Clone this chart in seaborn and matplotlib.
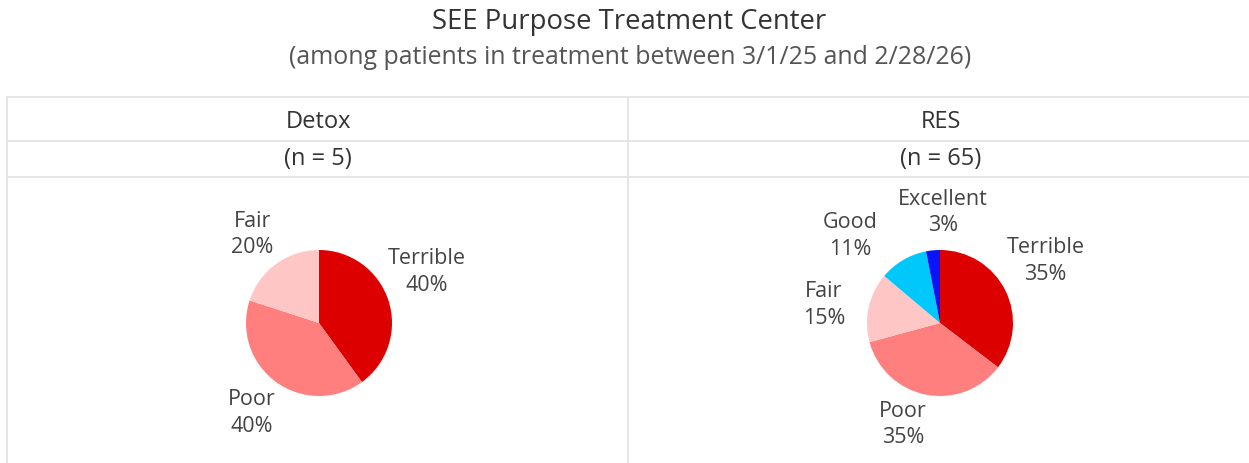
import matplotlib
matplotlib.use("Agg")
import numpy as np
import matplotlib.pyplot as plt
from matplotlib.lines import Line2D
import seaborn as sns

# ---- data ----
title = "SEE Purpose Treatment Center"
subtitle = "(among patients in treatment between 3/1/25 and 2/28/26)"
programs = ["Detox", "RES"]
n_counts = [5, 65]
categories = ["Terrible", "Poor", "Fair", "Good", "Excellent"]
detox_counts = [2, 2, 1, 0, 0]
res_counts = [23, 23, 10, 7, 2]
colors = ["#DD0000", "#FF7F7F", "#FFC6C6", "#00C8FA", "#0A14FA"]

# label placement styling (distance in radii, angular nudge in degrees)
detox_label_dist = [1.64, 1.53, 1.53, 1.5, 1.5]
detox_label_nudge = [7.6, -1.0, 0.8, 0, 0]
res_label_dist = [1.68, 1.47, 1.61, 1.72, 1.53]
res_label_nudge = [4.5, -9.2, 3.1, 15.0, -7.0]

sns.set_theme(style="white")
plt.rcParams["font.family"] = ["Open Sans", "DejaVu Sans"]

W, H = 1249, 464
fig = plt.figure(figsize=(W / 100, H / 100), dpi=100)
fig.patch.set_facecolor("white")


def fx(x):
    return x / W


def fy(y):
    return 1 - y / H


fig.text(fx(629), fy(22), title, ha="center", va="center", fontsize=19.8, color="#333333")
fig.text(fx(630), fy(57), subtitle, ha="center", va="center", fontsize=17.9, color="#555555")

grid_c = "#e2e2e2"
for y in [98, 142, 178]:
    fig.add_artist(Line2D([fx(7), 1], [fy(y), fy(y)], color=grid_c, lw=1.2))
for x in [7, 628]:
    fig.add_artist(Line2D([fx(x), fx(x)], [fy(98), 0], color=grid_c, lw=1.2))

col_centers = [318, 941]
for cx, prog, n in zip(col_centers, programs, n_counts):
    fig.text(fx(cx), fy(122), prog, ha="center", va="center", fontsize=17, color="#333333")
    fig.text(fx(cx), fy(159), f"(n = {n})", ha="center", va="center", fontsize=17, color="#333333")

R = 73.0  # pie radius in px
pie_centers = [(319, 324), (940, 324)]
aw, ah = 360, 290
for (cx, cy), counts, dists, nudges in zip(
        pie_centers, [detox_counts, res_counts],
        [detox_label_dist, res_label_dist], [detox_label_nudge, res_label_nudge]):
    ax = fig.add_axes([fx(cx - aw / 2), fy(cy + ah / 2), aw / W, ah / H])
    idx = [i for i, c in enumerate(counts) if c > 0]
    vals = [counts[i] for i in idx]
    cols = [colors[i] for i in idx]
    total = sum(vals)
    labs = [f"{categories[i]}\n{round(100 * counts[i] / total)}%" for i in idx]
    wedges, texts = ax.pie(vals, colors=cols, startangle=90, counterclock=False,
                           labels=labs, labeldistance=1.5,
                           wedgeprops=dict(linewidth=0),
                           textprops=dict(fontsize=15.5, color="#444444"))
    for w, t, i in zip(wedges, texts, idx):
        mid = np.deg2rad((w.theta1 + w.theta2) / 2 + nudges[i])
        t.set_position((dists[i] * np.cos(mid), dists[i] * np.sin(mid)))
        t.set_ha("center")
        t.set_va("center")
        t.set_multialignment("center")
        t.set_linespacing(1.35)
    ax.set_xlim(-aw / 2 / R, aw / 2 / R)
    ax.set_ylim(-ah / 2 / R, ah / 2 / R)
    ax.set_aspect("equal")
    ax.axis("off")

fig.savefig("out.png", dpi=100, facecolor="white")
